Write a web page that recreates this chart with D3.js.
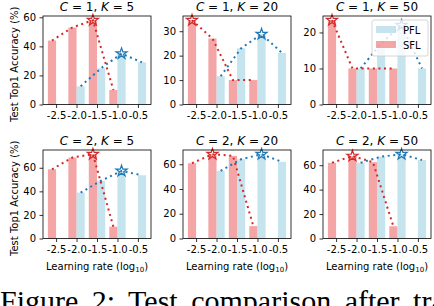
<!DOCTYPE html>
<html>
<head>
<meta charset="utf-8">
<script src="https://cdn.jsdelivr.net/npm/d3@7"></script>
<style>
  body { margin: 0; background: #fff; }
  svg { display: block; }
  text { font-family: "DejaVu Sans", sans-serif; fill: #000; }
</style>
</head>
<body>
<svg id="chart"></svg>
<script>
// learning rates (log10) and their tick labels
const lrValues = [-2.5, -2.0, -1.5, -1.0, -0.5];
const lrLabels = ["-2.5", "-2.0", "-1.5", "-1.0", "-0.5"];

// panel settings
const panelC = [1, 1, 1, 2, 2, 2];
const panelK = [5, 20, 50, 5, 20, 50];

// SFL test accuracy (%) per learning rate, null = no run
const sflC1K5 = [44, 53, 58, 10, null];
const sflC1K20 = [34.5, 27, 10, 10, null];
const sflC1K50 = [23.4, 10, 10, 10, null];
const sflC2K5 = [58.7, 68.7, 71.5, 10, null];
const sflC2K20 = [60.8, 68.1, 66.8, 10, null];
const sflC2K50 = [62, 67.5, 62.5, 10, null];

// PFL test accuracy (%) per learning rate
const pflC1K5 = [null, 12.5, 25, 35, 29];
const pflC1K20 = [null, 11.6, 23, 28.8, 21.1];
const pflC1K50 = [null, 10, 17, 22, 10];
const pflC2K5 = [null, 38.9, 49, 57.3, 53.6];
const pflC2K20 = [null, 54.6, 64, 68.1, 61.9];
const pflC2K50 = [null, 62, 67, 69, 64.2];

// y tick values per panel
const yTicksC1K5 = [0, 20, 40, 60];
const yTicksC1K20 = [0, 10, 20, 30];
const yTicksC1K50 = [0, 10, 20];
const yTicksC2 = [0, 20, 40, 60];

const sflSeries = [sflC1K5, sflC1K20, sflC1K50, sflC2K5, sflC2K20, sflC2K50];
const pflSeries = [pflC1K5, pflC1K20, pflC1K50, pflC2K5, pflC2K20, pflC2K50];
const yTickSets = [yTicksC1K5, yTicksC1K20, yTicksC1K50, yTicksC2, yTicksC2, yTicksC2];

const width = 434;
const height = 306;
const colLeft = [43, 183, 323];
const rowTop = [16, 150];
const plotW = 108;
const plotH = 88.5;
const barW = 0.2;

const sflBar = "rgba(240,128,128,0.7)";
const pflBar = "rgba(173,216,230,0.7)";
const sflLine = "#d62728";
const pflLine = "#1f77b4";

const svg = d3.select("#chart")
  .attr("width", width)
  .attr("height", height)
  .attr("viewBox", [0, 0, width, height]);

const star = d3.symbol().type(d3.symbolStar).size(38);

for (let p = 0; p < 6; p++) {
  const row = Math.floor(p / 3), col = p % 3;
  const x0 = colLeft[col], y0 = rowTop[row];
  const sfl = sflSeries[p], pfl = pflSeries[p];

  const allVals = sfl.concat(pfl).filter(v => v != null);
  const yMax = d3.max(allVals) * 1.05;

  const x = d3.scaleLinear().domain([-2.82, -0.18]).range([x0, x0 + plotW]);
  const y = d3.scaleLinear().domain([0, yMax]).range([y0 + plotH, y0]);

  const g = svg.append("g");

  // bars: SFL left of the tick, PFL right of it
  const sflPts = lrValues.map((lr, i) => ({ lr: lr, v: sfl[i] })).filter(d => d.v != null);
  const pflPts = lrValues.map((lr, i) => ({ lr: lr, v: pfl[i] })).filter(d => d.v != null);

  g.selectAll(".sfl").data(sflPts).join("rect")
    .attr("x", d => x(d.lr - barW))
    .attr("y", d => y(d.v))
    .attr("width", d => x(d.lr) - x(d.lr - barW))
    .attr("height", d => y(0) - y(d.v))
    .attr("fill", sflBar);

  g.selectAll(".pfl").data(pflPts).join("rect")
    .attr("x", d => x(d.lr))
    .attr("y", d => y(d.v))
    .attr("width", d => x(d.lr + barW) - x(d.lr))
    .attr("height", d => y(0) - y(d.v))
    .attr("fill", pflBar);

  // dotted lines through bar centres
  const line = off => d3.line().x(d => x(d.lr + off)).y(d => y(d.v));
  const series = [[pflPts, barW / 2, pflLine], [sflPts, -barW / 2, sflLine]];
  series.forEach(([pts, off, color]) => {
    g.append("path")
      .datum(pts)
      .attr("fill", "none")
      .attr("stroke", color)
      .attr("stroke-width", 2)
      .attr("stroke-dasharray", "2,3.6")
      .attr("d", line(off));
    const best = pts.reduce((a, b) => (b.v > a.v ? b : a));
    g.append("path")
      .attr("d", star)
      .attr("transform", `translate(${x(best.lr + off)},${y(best.v)})`)
      .attr("fill", "none")
      .attr("stroke", color)
      .attr("stroke-width", 1.2);
  });

  // axes
  const xAxis = g.append("g")
    .attr("transform", `translate(0,${y0 + plotH})`)
    .call(d3.axisBottom(x).tickValues(lrValues).tickFormat((d, i) => lrLabels[i])
      .tickSize(3.5).tickPadding(3.5).tickSizeOuter(0));
  const yAxis = g.append("g")
    .attr("transform", `translate(${x0},0)`)
    .call(d3.axisLeft(y).tickValues(yTickSets[p]).tickFormat(d3.format("d"))
      .tickSize(3.5).tickPadding(3.5).tickSizeOuter(0));
  [xAxis, yAxis].forEach(a => {
    a.select(".domain").remove();
    a.selectAll("line").attr("stroke", "#000").attr("stroke-width", 0.8);
    a.selectAll("text").attr("font-size", 10);
  });

  // frame
  g.append("rect")
    .attr("x", x0).attr("y", y0)
    .attr("width", plotW).attr("height", plotH)
    .attr("fill", "none")
    .attr("stroke", "#000")
    .attr("stroke-width", 0.8);

  // title
  const t = g.append("text")
    .attr("x", x0 + plotW / 2)
    .attr("y", y0 - 5)
    .attr("text-anchor", "middle")
    .attr("font-size", 12);
  t.append("tspan").attr("font-style", "italic").text("C");
  t.append("tspan").text(" = " + panelC[p] + ", ");
  t.append("tspan").attr("font-style", "italic").text("K");
  t.append("tspan").text(" = " + panelK[p]);

  if (col === 0) {
    g.append("text")
      .attr("transform", `translate(18,${y0 + plotH / 2 + 4}) rotate(-90)`)
      .attr("text-anchor", "middle")
      .attr("font-size", 10)
      .text("Test Top1 Accuracy (%)");
  }
  if (row === 1) {
    const xl = g.append("text")
      .attr("x", x0 + plotW / 2)
      .attr("y", 270)
      .attr("text-anchor", "middle")
      .attr("font-size", 10);
    xl.append("tspan").text("Learning rate (log");
    xl.append("tspan").attr("font-size", 7).attr("dy", 2).text("10");
    xl.append("tspan").attr("dy", -2).text(")");
  }

  // legend in the top-right panel
  if (p === 2) {
    const lg = g.append("g").attr("transform", `translate(${x0 + plotW - 59},${y0 + 4})`);
    lg.append("rect")
      .attr("width", 56).attr("height", 36)
      .attr("rx", 2)
      .attr("fill", "rgba(255,255,255,0.8)")
      .attr("stroke", "#ccc")
      .attr("stroke-width", 0.8);
    [["PFL", pflBar], ["SFL", sflBar]].forEach(([name, color], i) => {
      lg.append("rect")
        .attr("x", 4).attr("y", 6 + i * 15)
        .attr("width", 20).attr("height", 7)
        .attr("fill", color);
      lg.append("text")
        .attr("x", 31).attr("y", 13.5 + i * 15)
        .attr("font-size", 10)
        .text(name);
    });
  }
}

// caption of the figure, clipped by the page edge as in the source crop
svg.append("text")
  .attr("x", 0)
  .attr("y", 311)
  .attr("font-size", 30)
  .attr("word-spacing", 6)
  .style("font-family", "'Liberation Serif', serif")
  .text("Figure 2: Test comparison after training");
</script>
</body>
</html>
